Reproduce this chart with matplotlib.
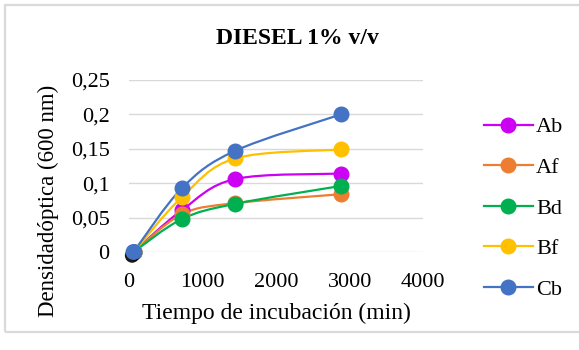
import matplotlib
matplotlib.use("Agg")
import matplotlib.pyplot as plt
from matplotlib.path import Path
from matplotlib.patches import PathPatch, Rectangle
from matplotlib.lines import Line2D
import matplotlib.patheffects as pe

plt.rcParams['font.family'] = ['Liberation Serif', 'DejaVu Serif']

# incubation time (min) and optical density at 600 nm
tiempo = [60, 720, 1440, 2880]
series = ["Ab", "Af", "Bd", "Bf", "Cb"]
Ab = [0.0, 0.061, 0.106, 0.114]
Af = [0.0, 0.055, 0.071, 0.084]
Bd = [0.0, 0.048, 0.070, 0.096]
Bf = [0.0, 0.080, 0.136, 0.149]
Cb = [0.0, 0.093, 0.147, 0.200]
valores = [Ab, Af, Bd, Bf, Cb]
colores = ["#CC00F2", "#ED7D31", "#00B050", "#FFC000", "#4472C4"]

y_ticks = [0, 0.05, 0.1, 0.15, 0.2, 0.25]
y_labels = ["0", "0,05", "0,1", "0,15", "0,2", "0,25"]
x_ticks = [0, 1000, 2000, 3000, 4000]


def smooth_path(xs, ys):
    # bezier segments through every point, like a spreadsheet "smoothed line"
    pts = list(zip(xs, ys))
    n = len(pts)
    verts = [pts[0]]
    codes = [Path.MOVETO]
    for i in range(n - 1):
        p0 = pts[max(i - 1, 0)]
        p1 = pts[i]
        p2 = pts[i + 1]
        p3 = pts[min(i + 2, n - 1)]
        c1 = (p1[0] + (p2[0] - p0[0]) / 6, p1[1] + (p2[1] - p0[1]) / 6)
        c2 = (p2[0] - (p3[0] - p1[0]) / 6, p2[1] - (p3[1] - p1[1]) / 6)
        verts += [c1, c2, p2]
        codes += [Path.CURVE4] * 3
    return Path(verts, codes)


fig = plt.figure(figsize=(5.79, 3.5), dpi=100)
ax = fig.add_axes([0.223, 0.28, 0.508, 0.4914])

# chart border
fig.patches.append(Rectangle((5 / 579, 18 / 350), 1.0, 327 / 350, transform=fig.transFigure,
                             fill=False, edgecolor="#DADADA", linewidth=1.6))

for nombre, ys, c in zip(series, valores, colores):
    ax.add_patch(PathPatch(smooth_path(tiempo, ys), fill=False, edgecolor=c, linewidth=1.6, zorder=3))
    ax.plot(tiempo, ys, linestyle="none", marker="o", markersize=10.5, color=c, zorder=4, clip_on=False)

# dark shadow under the starting point
ax.scatter([tiempo[0]], [Cb[0]], s=110, color="#4472C4", zorder=5, clip_on=False,
           path_effects=[pe.SimplePatchShadow(offset=(-1, -2.5), shadow_rgbFace="black", alpha=0.9),
                         pe.Normal()])

ax.set_xlim(0, 4000)
ax.set_ylim(0, 0.25)
ax.set_xticks(x_ticks)
ax.set_yticks(y_ticks)
ax.set_yticklabels(y_labels)
ax.tick_params(length=0, labelsize=16, pad=14)
ax.tick_params(axis="x", pad=15)
ax.grid(axis="y", color="#D9D9D9", linewidth=1.0)
ax.set_axisbelow(True)
for s in ax.spines.values():
    s.set_visible(False)

fig.text(297 / 579, 1 - 39 / 350, "DIESEL 1% v/v", fontsize=17, fontweight="bold",
         ha="center", va="center")
ax.set_xlabel("Tiempo de incubación (min)", fontsize=17, labelpad=8)
ax.set_ylabel("Densidadóptica (600 nm)", fontsize=16.5)
ax.yaxis.set_label_coords(-0.24, 0.3)

handles = [Line2D([0], [0], color=c, linewidth=1.6, marker="o", markersize=10.5) for c in colores]
fig.legend(handles, series, loc="center left", bbox_to_anchor=(0.801, 0.405), frameon=False,
           fontsize=16, handlelength=2.2, handletextpad=0.15, labelspacing=0.9)

fig.savefig("out.png", dpi=100)
